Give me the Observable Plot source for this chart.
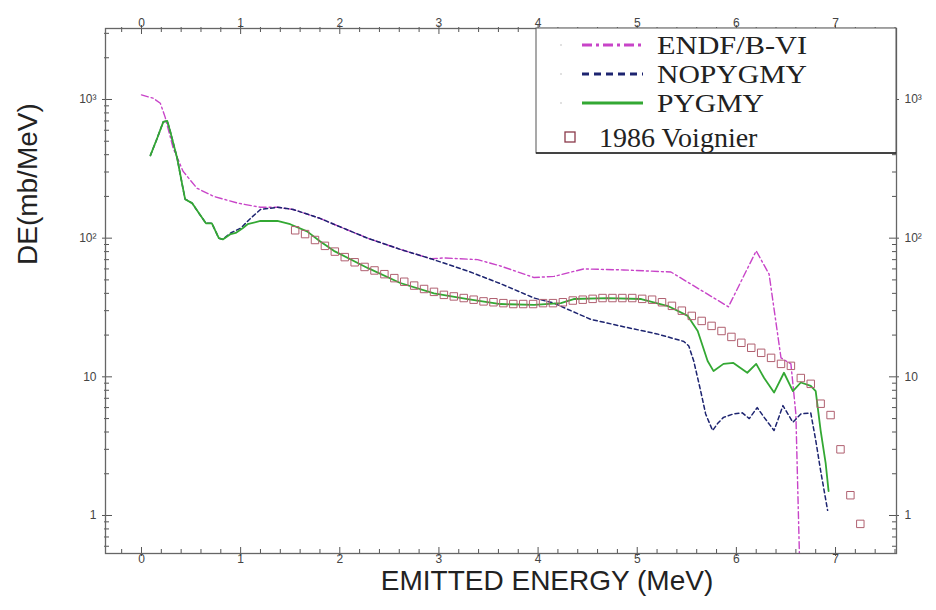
<!DOCTYPE html>
<html><head><meta charset="utf-8">
<script src="https://cdn.jsdelivr.net/npm/d3@7"></script>
<script src="https://cdn.jsdelivr.net/npm/@observablehq/plot@0.6"></script>
<style>html,body{margin:0;padding:0;background:#fff}svg{display:block}</style>
</head><body><div id="chart"></div>
<script>
// ---- data ----
const endfE = [0.0, 0.12, 0.19, 0.24, 0.32, 0.42, 0.56, 0.73, 0.97, 1.20, 1.37, 1.53, 1.80, 1.94, 2.28, 2.61, 2.92, 3.05, 3.39, 3.62, 3.96, 4.16, 4.46, 4.86, 5.34, 5.92, 6.20, 6.33, 6.45, 6.55, 6.60, 6.64];
const endfV = [1080, 1020, 940, 740, 445, 303, 229, 200, 179, 167, 167, 161, 139, 126, 100, 83, 71, 72, 70, 63, 52, 53, 60, 59, 57, 32, 81, 55, 13.7, 12.4, 5.4, 0.4];

const nopyE = [0.09, 0.16, 0.22, 0.26, 0.29, 0.36, 0.41, 0.44, 0.51, 0.58, 0.65, 0.71, 0.78, 0.82, 0.90, 1.00, 1.10, 1.20, 1.37, 1.53, 1.80, 1.94, 2.28, 2.61, 2.92, 3.29, 3.62, 3.96, 4.16, 4.33, 4.53, 4.86, 5.20, 5.47, 5.52, 5.57, 5.64, 5.69, 5.76, 5.81, 5.87, 5.97, 6.06, 6.13, 6.21, 6.28, 6.38, 6.47, 6.57, 6.65, 6.75, 6.80, 6.85, 6.92];
const nopyV = [395, 530, 690, 700, 589, 377, 245, 191, 179, 151, 128, 128, 100, 98, 109, 118, 139, 161, 167, 161, 139, 126, 100, 83, 71, 58, 47, 37, 34, 30, 26, 23, 20.4, 18, 16.7, 13, 7.9, 5.4, 4.1, 4.6, 5.1, 5.4, 5.5, 5.0, 6.0, 5.1, 4.1, 6.2, 4.7, 5.4, 5.5, 3.5, 2.1, 1.09];

const pygE = [0.09, 0.16, 0.22, 0.26, 0.29, 0.36, 0.41, 0.44, 0.51, 0.58, 0.65, 0.71, 0.78, 0.82, 0.90, 0.95, 1.02, 1.07, 1.20, 1.37, 1.50, 1.67, 1.80, 1.94, 2.28, 2.61, 2.95, 3.29, 3.62, 3.96, 4.23, 4.36, 4.70, 5.04, 5.31, 5.51, 5.61, 5.71, 5.77, 5.87, 5.97, 6.11, 6.20, 6.28, 6.38, 6.48, 6.57, 6.65, 6.75, 6.80, 6.85, 6.90, 6.93];
const pygV = [395, 530, 690, 700, 589, 377, 245, 191, 179, 151, 128, 128, 100, 98, 107, 109, 118, 126, 133, 133, 126, 112, 95, 81, 61, 47.5, 40, 36.4, 33.5, 33, 34, 36.4, 37, 36.4, 32.4, 27.5, 21.4, 13, 11, 12.4, 12.6, 10.7, 12.4, 9.8, 7.7, 10.7, 7.9, 9.1, 8.6, 7.9, 4.1, 2.4, 1.5];

const voigE = [1.55, 1.65, 1.75, 1.85, 1.95, 2.05, 2.15, 2.25, 2.35, 2.45, 2.55, 2.65, 2.75, 2.85, 2.95, 3.05, 3.15, 3.25, 3.35, 3.45, 3.55, 3.65, 3.75, 3.85, 3.95, 4.05, 4.15, 4.25, 4.35, 4.45, 4.55, 4.65, 4.75, 4.85, 4.95, 5.05, 5.15, 5.25, 5.35, 5.45, 5.55, 5.65, 5.75, 5.85, 5.95, 6.05, 6.15, 6.25, 6.35, 6.45, 6.55, 6.65, 6.75, 6.85, 6.95, 7.05, 7.15, 7.25];
const voigV = [114, 107, 97, 88, 80, 73, 67, 62, 58.5, 55, 51.5, 48.5, 45.5, 43, 41, 39, 38, 37, 36, 35, 34.5, 34, 33.5, 33.5, 33.5, 34, 34, 34.5, 35.5, 36, 36.5, 37, 37, 37, 37, 36.5, 36, 34.5, 32.5, 30, 27.5, 25.3, 23.3, 21.4, 19.4, 17.6, 16.2, 14.9, 13.7, 12.4, 12.0, 9.8, 8.9, 6.4, 5.3, 3.0, 1.4, 0.87];

const seriesNames = ["ENDF/B-VI", "NOPYGMY", "PYGMY", "1986 Voignier"];
const xMajor = [0, 1, 2, 3, 4, 5, 6, 7];
const xTickLabels = ["0", "1", "2", "3", "4", "5", "6", "7"];
const xMinor = [-0.2, 0.2, 0.4, 0.6, 0.8, 1.2, 1.4, 1.6, 1.8, 2.2, 2.4, 2.6, 2.8, 3.2, 3.4, 3.6, 3.8, 4.2, 4.4, 4.6, 4.8, 5.2, 5.4, 5.6, 5.8, 6.2, 6.4, 6.6, 6.8, 7.2, 7.4, 7.6];
const yMajor = [1, 10, 100, 1000];
const yTickLabels = ["1", "10", "10\u00B2", "10\u00B3"];
const yMinor = [0.6, 0.7, 0.8, 0.9, 2, 3, 4, 5, 6, 7, 8, 9, 20, 30, 40, 50, 60, 70, 80, 90, 200, 300, 400, 500, 600, 700, 800, 900, 2000, 3000];
const xTitle = "EMITTED ENERGY (MeV)";
const yTitle = "DE(mb/MeV)";

// ---- styling ----
const colEndf = "#c844c8", colNopy = "#1d2470", colPyg = "#33a833", colVoig = "#b06070";
const W = 936, H = 610, mL = 105, mR = 40, mT = 28, mB = 57;
const fh = H - mT - mB, fw = W - mL - mR;
const rows = (E, V) => E.map((e, i) => ({E: e, v: V[i]}));
const axisCol = "#555";

const chart = Plot.plot({
  width: W, height: H, marginLeft: mL, marginRight: mR, marginTop: mT, marginBottom: mB,
  style: {background: "#fff", fontFamily: "'Liberation Sans', Arial, sans-serif", overflow: "visible"},
  x: {domain: [-0.363, 7.615], axis: null},
  y: {type: "log", domain: [0.532, 3251], axis: null},
  marks: [
    Plot.line(rows(endfE, endfV), {x: "E", y: "v", stroke: colEndf, strokeWidth: 1.4, strokeDasharray: "7,3,2,3", clip: true}),
    Plot.line(rows(nopyE, nopyV), {x: "E", y: "v", stroke: colNopy, strokeWidth: 1.5, strokeDasharray: "4,3", clip: true}),
    Plot.line(rows(pygE, pygV), {x: "E", y: "v", stroke: colPyg, strokeWidth: 1.8, clip: true}),
    Plot.dot(rows(voigE, voigV), {x: "E", y: "v", symbol: "square", r: 4.2, stroke: colVoig, strokeWidth: 1, fill: "none", clip: true}),
    // inward ticks
    Plot.tickX(xMinor, {x: d => d, insetTop: fh - 4, insetBottom: -1, stroke: axisCol}),
    Plot.tickX(xMajor, {x: d => d, insetTop: fh - 6, insetBottom: -3, stroke: axisCol}),
    Plot.tickX(xMinor, {x: d => d, insetBottom: fh - 4, insetTop: -1, stroke: axisCol}),
    Plot.tickX(xMajor, {x: d => d, insetBottom: fh - 6, insetTop: -3, stroke: axisCol}),
    Plot.tickY(yMinor, {y: d => d, insetRight: fw - 4, insetLeft: -1, stroke: axisCol}),
    Plot.tickY(yMajor, {y: d => d, insetRight: fw - 7, insetLeft: -3, stroke: axisCol}),
    Plot.tickY(yMinor, {y: d => d, insetLeft: fw - 4, insetRight: -1, stroke: axisCol}),
    Plot.tickY(yMajor, {y: d => d, insetLeft: fw - 7, insetRight: -3, stroke: axisCol}),
    Plot.frame({stroke: "#666", strokeWidth: 1.3}),
    // tick labels
    Plot.text(xMajor, {x: d => d, text: xTickLabels, frameAnchor: "bottom", dy: 9, fontSize: 12, fill: "#444"}),
    Plot.text(xMajor, {x: d => d, text: xTickLabels, frameAnchor: "top", dy: -10, fontSize: 12, fill: "#444"}),
    Plot.text(yMajor, {y: d => d, text: yTickLabels, frameAnchor: "left", dx: -9, textAnchor: "end", fontSize: 12, fill: "#444"}),
    Plot.text(yMajor, {y: d => d, text: yTickLabels, frameAnchor: "right", dx: 8, textAnchor: "start", fontSize: 12, fill: "#444"}),
    // axis titles
    Plot.text([xTitle], {text: d => d, frameAnchor: "bottom", dx: 46, dy: 36, fontSize: 28, fill: "#222"}),
    Plot.text([yTitle], {text: d => d, frameAnchor: "left", rotate: -90, dx: -77, dy: -26, fontSize: 28, fill: "#222"})
  ]
});
document.getElementById("chart").appendChild(chart);

// ---- legend (inside the frame, top-right) ----
const svg = d3.select(chart);
const lg = svg.append("g")
  .attr("font-family", "'Liberation Serif', 'Times New Roman', serif")
  .attr("text-anchor", "start");
lg.append("rect").attr("x", 536).attr("y", mT).attr("width", W - mR - 536).attr("height", 153 - mT)
  .attr("fill", "#fff").attr("stroke", "#555").attr("stroke-width", 1);
lg.append("line").attr("x1", 536).attr("x2", W - mR).attr("y1", 153).attr("y2", 153).attr("stroke", "#222").attr("stroke-width", 1.6);
const legendRows = [
  {name: seriesNames[0], y: 45, stroke: colEndf, dash: "10,4,3,4", len: 150},
  {name: seriesNames[1], y: 74, stroke: colNopy, dash: "7,5", len: 150},
  {name: seriesNames[2], y: 103, stroke: colPyg, dash: null, len: 107}
];
legendRows.forEach(r => {
  lg.append("circle").attr("cx", 561).attr("cy", r.y).attr("r", 0.8).attr("fill", "#bbb");
  const l = lg.append("line").attr("x1", 582).attr("x2", 643).attr("y1", r.y).attr("y2", r.y)
    .attr("stroke", r.stroke).attr("stroke-width", 3);
  if (r.dash) l.attr("stroke-dasharray", r.dash);
  lg.append("text").attr("x", 657).attr("y", r.y).attr("dy", "0.35em").attr("font-size", 26)
    .attr("textLength", r.len).attr("lengthAdjust", "spacingAndGlyphs")
    .attr("fill", "#222").attr("text-anchor", "start").text(r.name);
});
lg.append("rect").attr("x", 565).attr("y", 132).attr("width", 10).attr("height", 10)
  .attr("fill", "none").attr("stroke", "#8b3a4a").attr("stroke-width", 1.3);
lg.append("text").attr("x", 599).attr("y", 137).attr("dy", "0.35em").attr("font-size", 28).attr("fill", "#222").attr("text-anchor", "start").text(seriesNames[3]);
</script>
</body></html>
